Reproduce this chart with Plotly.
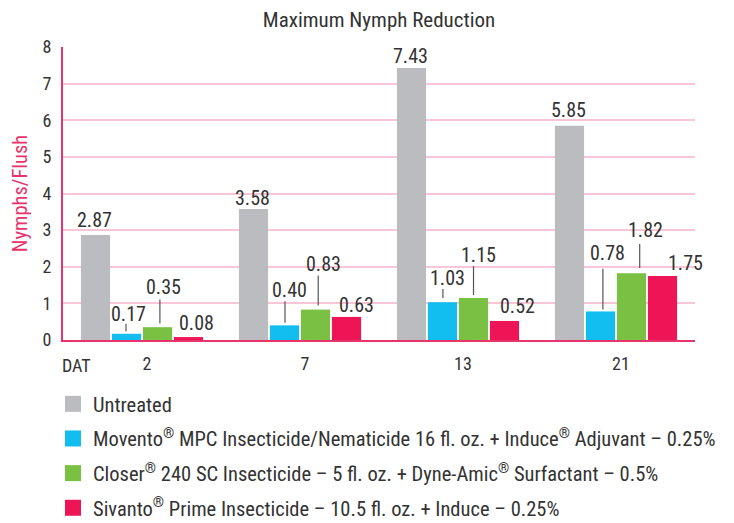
import plotly.graph_objects as go

# ---------------- data ----------------
categories = ["2", "7", "13", "21"]
series_names = [
    "Untreated",
    "Movento<sup>®</sup> MPC Insecticide/Nematicide 16 fl. oz. + Induce<sup>®</sup> Adjuvant – 0.25%",
    "Closer<sup>®</sup> 240 SC Insecticide – 5 fl. oz. + Dyne-Amic<sup>®</sup> Surfactant – 0.5%",
    "Sivanto<sup>®</sup> Prime Insecticide – 10.5 fl. oz. + Induce – 0.25%",
]
untreated = [2.87, 3.58, 7.43, 5.85]
movento = [0.17, 0.40, 1.03, 0.78]
closer = [0.35, 0.83, 1.15, 1.82]
sivanto = [0.08, 0.63, 0.52, 1.75]
y_ticks = [0, 1, 2, 3, 4, 5, 6, 7, 8]

# ---------------- styles ----------------
colors = ["#BBBCBF", "#12BEEF", "#7AC143", "#EE1556"]
FONT = "Roboto Condensed, Roboto, Liberation Sans, sans-serif"
TXT = "#333333"
PINK = "#E8336C"
GRID = "#F8C6D6"

W, H = 734, 523
OFF = 8  # page body margin offset
# target screen geometry
PL, PR, PT, PB = 63, 695, 47, 340
ML, MT = PL - OFF, PT - OFF
MR, MB = W - (PR - OFF), H - (PB - OFF)
BARGAP = 0.215
plot_w = PR - PL
plot_h = PB - PT
cat_px = plot_w / len(categories)
slot = cat_px * (1 - BARGAP) / 4
bar_off = [(i - 1.5) * slot for i in range(4)]

# label placement (px): (dx from bar centre, dy above bar top)
label_pos = [
    [(-1, 15), (-0.6, 11), (-0.5, 12), (-0.8, 15.5)],
    [(2.5, 19.7), (5.5, 35.7), (4.7, 24.7), (7.2, 58)],
    [(5.5, 39.7), (7.7, 46), (4.9, 43), (14.2, 43)],
    [(8, 14), (10, 11.7), (13, 15), (22.5, 13.2)],
]
# leader lines (px): (dx, bottom gap, top) or None
leader = [
    [None, None, None, None],
    [(-0.5, 2.5, 10), (0.5, 2.7, 24), (0.4, 4.4, 13.4), (2.4, 2, 42.7)],
    [(2.4, 3.7, 27.7), (2.7, 4, 34), (0, 2.7, 31.7), (8.2, 5.3, 29.3)],
    [None, None, None, None],
]

all_series = [untreated, movento, closer, sivanto]

fig = go.Figure()
for i, (name, vals) in enumerate(zip(series_names, all_series)):
    fig.add_trace(go.Bar(
        x=categories, y=vals, name=name, showlegend=False,
        marker=dict(color=colors[i], line=dict(width=0)),
    ))
# legend entries (square swatches)
for i, name in enumerate(series_names):
    fig.add_trace(go.Scatter(
        x=[None], y=[None], mode="markers", name=name, legendgroup=str(i),
        marker=dict(symbol="square", size=16, color=colors[i]),
        hoverinfo="skip",
    ))

annotations = []
shapes = []
for i, vals in enumerate(all_series):
    for j, v in enumerate(vals):
        dx, dy = label_pos[i][j]
        annotations.append(dict(
            x=j, y=v, xref="x", yref="y", text=f"{v:.2f}", showarrow=False,
            xshift=bar_off[i] + dx, yshift=dy, yanchor="middle", xanchor="center",
            font=dict(family=FONT, size=20, color=TXT),
        ))
        ld = leader[i][j]
        if ld is not None:
            ldx, g0, g1 = ld
            shapes.append(dict(
                type="line", xref="x", yref="y",
                xsizemode="pixel", ysizemode="pixel",
                xanchor=j, yanchor=v,
                x0=bar_off[i] + ldx, x1=bar_off[i] + ldx, y0=g0, y1=g1,
                line=dict(color="#555555", width=1.2),
            ))

annotations.append(dict(
    x=(76.7 - PL) / plot_w, y=-(365 - PB) / plot_h, xref="paper", yref="paper",
    text="DAT", showarrow=False, xanchor="center", yanchor="middle",
    font=dict(family=FONT, size=18, color=TXT),
))

fig.update_layout(
    width=W, height=H,
    margin=dict(l=ML, r=MR, t=MT, b=MB, autoexpand=False),
    paper_bgcolor="white", plot_bgcolor="white",
    barmode="group", bargap=BARGAP, bargroupgap=0.06,
    font=dict(family=FONT, color=TXT),
    title=dict(text="Maximum Nymph Reduction", x=((PL + PR) / 2 - OFF) / W, xanchor="center",
               y=1 - 4 / H, yanchor="top", pad=dict(t=0, b=0),
               font=dict(family=FONT, size=21, color=TXT)),
    showlegend=True,
    legend=dict(
        x=(71 - 18 - PL) / plot_w, xanchor="left",
        yref="container", y=1 - (384 - OFF) / H, yanchor="top",
        font=dict(family=FONT, size=20.5, color=TXT),
        traceorder="grouped", tracegroupgap=5,
        bgcolor="rgba(0,0,0,0)",
    ),
    annotations=annotations,
    shapes=shapes,
    xaxis=dict(
        type="category", categoryorder="array", categoryarray=categories,
        range=[-0.5, len(categories) - 0.5],
        showline=True, linecolor=PINK, linewidth=2,
        showgrid=False, ticks="", ticklabelstandoff=6, ticklabelshift=5,
        tickfont=dict(family=FONT, size=18, color=TXT),
    ),
    yaxis=dict(
        range=[0, 8], tickvals=y_ticks, ticktext=[str(t) for t in y_ticks],
        showline=True, linecolor=PINK, linewidth=2,
        showgrid=True, gridcolor=GRID, gridwidth=1.5,
        zeroline=False, ticks="", ticklabelstandoff=6,
        tickfont=dict(family=FONT, size=18, color=TXT),
        title=dict(text="Nymphs/Flush", standoff=10,
                   font=dict(family=FONT, size=20.5, color=PINK)),
    ),
)

fig.write_html("out.html")
